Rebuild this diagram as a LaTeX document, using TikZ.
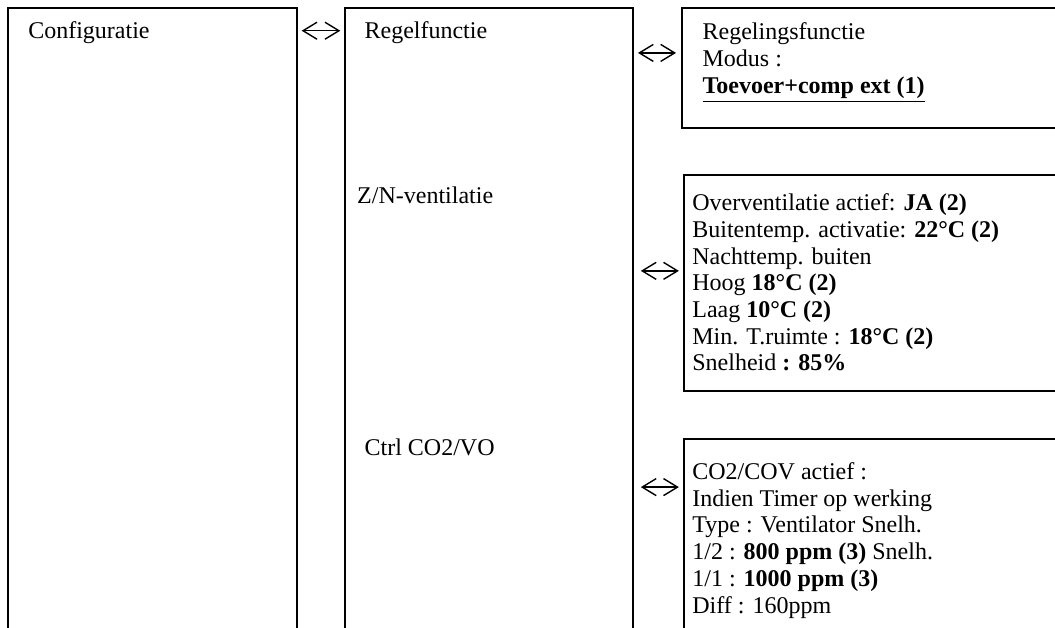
\documentclass[tikz,border=0pt]{standalone}
\usepackage{fontspec}
\setmainfont{Liberation Serif}
\usepackage{tikz}
\usetikzlibrary{positioning,arrows.meta,calc}

\begin{document}
\begin{tikzpicture}[font=\fontsize{12}{13.35}\selectfont,
   panel/.style={draw,line width=0.9pt,anchor=north west,inner sep=0pt},
   lbl/.style={anchor=north west,inner sep=0pt,align=left},
   dbl/.style={>={Straight Barb[length=7pt,width=8.5pt]},<->,line width=0.7pt}]

\useasboundingbox (0,0) rectangle (18.54,-11.036);
\clip (0,0) rectangle (18.54,-11.036);

% menu columns
\node[panel,minimum width=5.08cm,minimum height=12cm] (cfg) at (0.12,-0.12) {};
\node[panel,minimum width=5.06cm,minimum height=12cm] (regel) at (6.05,-0.12) {};

% setting boxes
\node[panel,minimum width=7.4cm,minimum height=2.11cm] (modus) at (11.97,-0.12) {};
\node[panel,minimum width=7.4cm,minimum height=3.80cm] (znv) at (12.00,-3.06) {};
\node[panel,minimum width=7.4cm,minimum height=5cm] (co2) at (12.00,-7.70) {};

% texts
\node[lbl] (tcfg) at (0.49,-0.374) {Configuratie};
\node[lbl] (tregel) at (6.40,-0.374) {Regelfunctie};
\node[lbl] (tznv) at (6.27,-3.274) {Z/N-ventilatie};
\node[lbl] (tco2) at (6.40,-7.70) {Ctrl CO2/VO};

\node[lbl] (tmodus) at (12.34,-0.392) {Regelingsfunctie\\Modus :\\
   \underline{\textbf{Toevoer+comp ext (1)}}};
\node[lbl] (tzset) at (12.16,-3.397) {Overventilatie actief: \textbf{JA (2)}\\
   Buitentemp. activatie: \textbf{22°C (2)}\\Nachttemp. buiten\\
   Hoog \textbf{18°C (2)}\\Laag \textbf{10°C (2)}\\
   Min. T.ruimte : \textbf{18°C (2)}\\Snelheid \textbf{: 85\%}};
\node[lbl] (tcset) at (12.16,-8.124) {CO2/COV actief :\\Indien Timer op werking\\
   Type : Ventilator Snelh.\\1/2 : \textbf{800 ppm (3)} Snelh.\\
   1/1 : \textbf{1000 ppm (3)}\\Diff : 160ppm};

% links
\coordinate (p1) at ($(regel.north west)+(0,-0.42)$);
\coordinate (p2) at ($(modus.north west)+(0,-0.81)$);
\coordinate (p3) at ($(znv.north west)+(0,-1.70)$);
\coordinate (p4) at ($(co2.north west)+(0,-0.86)$);
\draw[dbl] ([xshift=0.07cm]cfg.east |- p1) -- ([xshift=-0.07cm]p1);
\draw[dbl] ([xshift=0.07cm]regel.east |- p2) -- ([xshift=-0.09cm]p2);
\draw[dbl] ([xshift=0.12cm]regel.east |- p3) -- ([xshift=-0.07cm]p3);
\draw[dbl] ([xshift=0.12cm]regel.east |- p4) -- ([xshift=-0.07cm]p4);
\end{tikzpicture}
\end{document}
